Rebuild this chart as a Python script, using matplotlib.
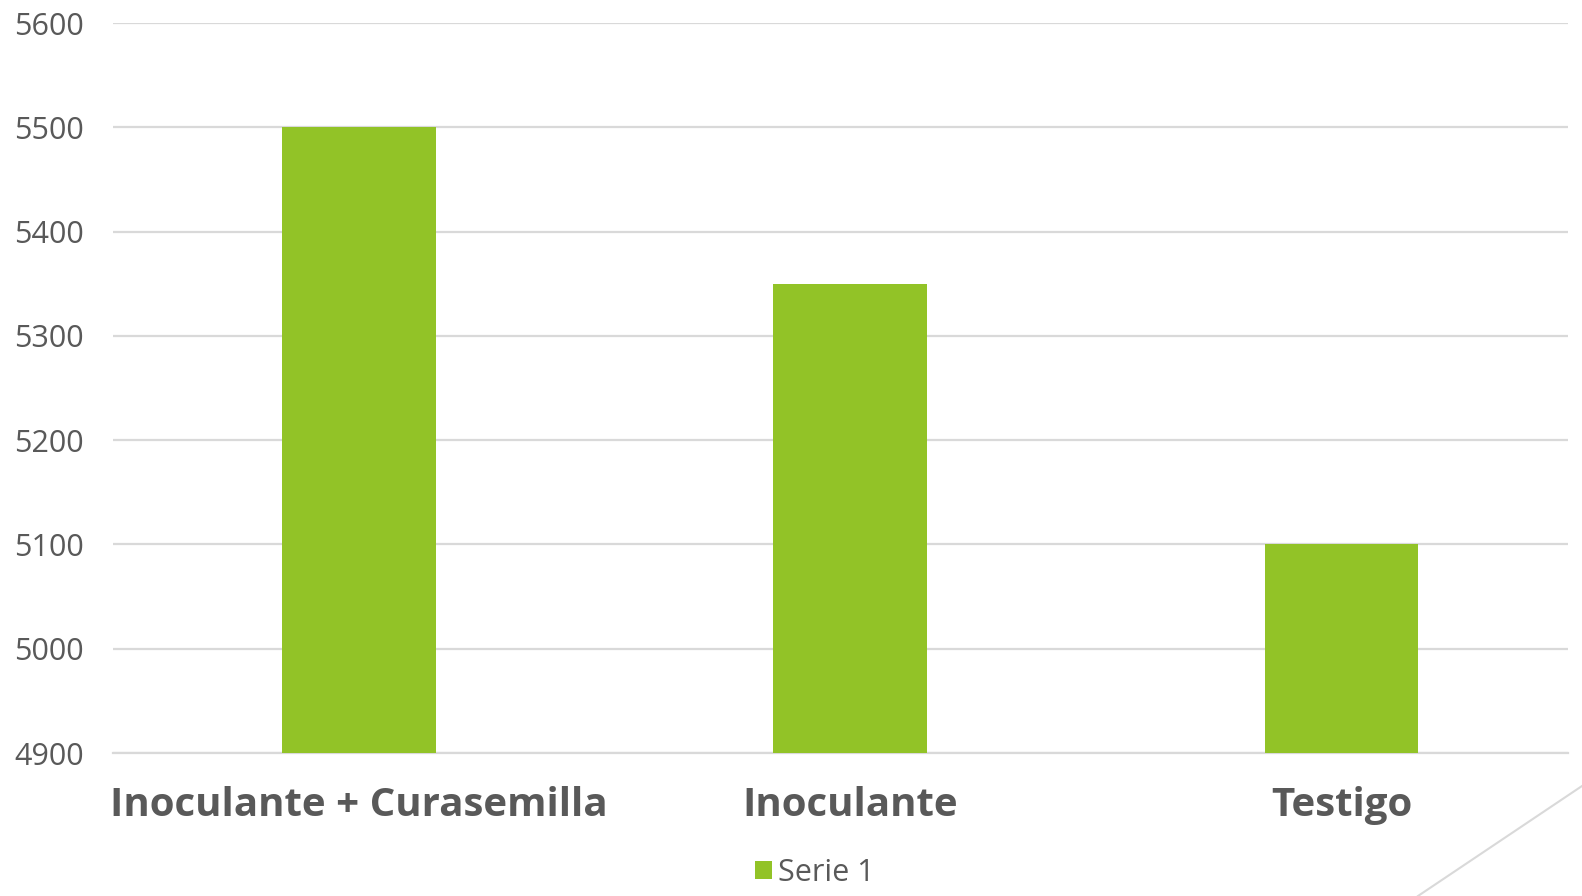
import matplotlib
matplotlib.use('Agg')
import matplotlib.pyplot as plt
from matplotlib.lines import Line2D
from matplotlib.patches import Patch

# data
categories = ['Inoculante + Curasemilla', 'Inoculante', 'Testigo']
serie_1 = [5500, 5350, 5100]
y_ticks = [4900, 5000, 5100, 5200, 5300, 5400, 5500, 5600]

green = '#92C327'
grey_text = '#595959'
grid_col = '#D9D9D9'

plt.rcParams['font.family'] = ['Open Sans', 'DejaVu Sans']

fig = plt.figure(figsize=(15.82, 8.96), dpi=100)
W, H = 1582, 896
ax = fig.add_axes([113 / W, 1 - 753 / H, (1568 - 113) / W, (753 - 23) / H])

x = list(range(len(categories)))
ax.bar(x, serie_1, width=0.313, color=green, zorder=3, label='Serie 1')

ax.set_ylim(4900, 5600)
ax.set_xlim(-0.5, 2.461)
ax.set_yticks(y_ticks)
ax.set_yticklabels([str(t) for t in y_ticks], fontsize=22, color=grey_text)
ax.set_xticks(x)
ax.set_xticklabels(categories, fontsize=29, fontweight='bold', color=grey_text)
ax.tick_params(axis='both', length=0)
ax.tick_params(axis='y', pad=21)
ax.tick_params(axis='x', pad=24)

ax.grid(axis='y', color=grid_col, linewidth=1.6, zorder=0)
for s in ['top', 'right', 'left']:
    ax.spines[s].set_visible(False)
ax.spines['bottom'].set_color(grid_col)
ax.spines['bottom'].set_linewidth(1.6)

# legend at bottom
handles = [Patch(facecolor=green, label='Serie 1')]
fig.legend(handles=handles, loc='center', bbox_to_anchor=(815 / W, 1 - 873 / H),
           frameon=False, fontsize=22, handlelength=0.55, handleheight=0.55,
           handletextpad=0.2, labelcolor=grey_text)

# decorative diagonal line from the slide
fig.add_artist(Line2D([1418 / W, 1582 / W], [0, 1 - 786 / H],
                      transform=fig.transFigure, color=grid_col, linewidth=1.5))

plt.savefig('out.png', dpi=100)
plt.close()
